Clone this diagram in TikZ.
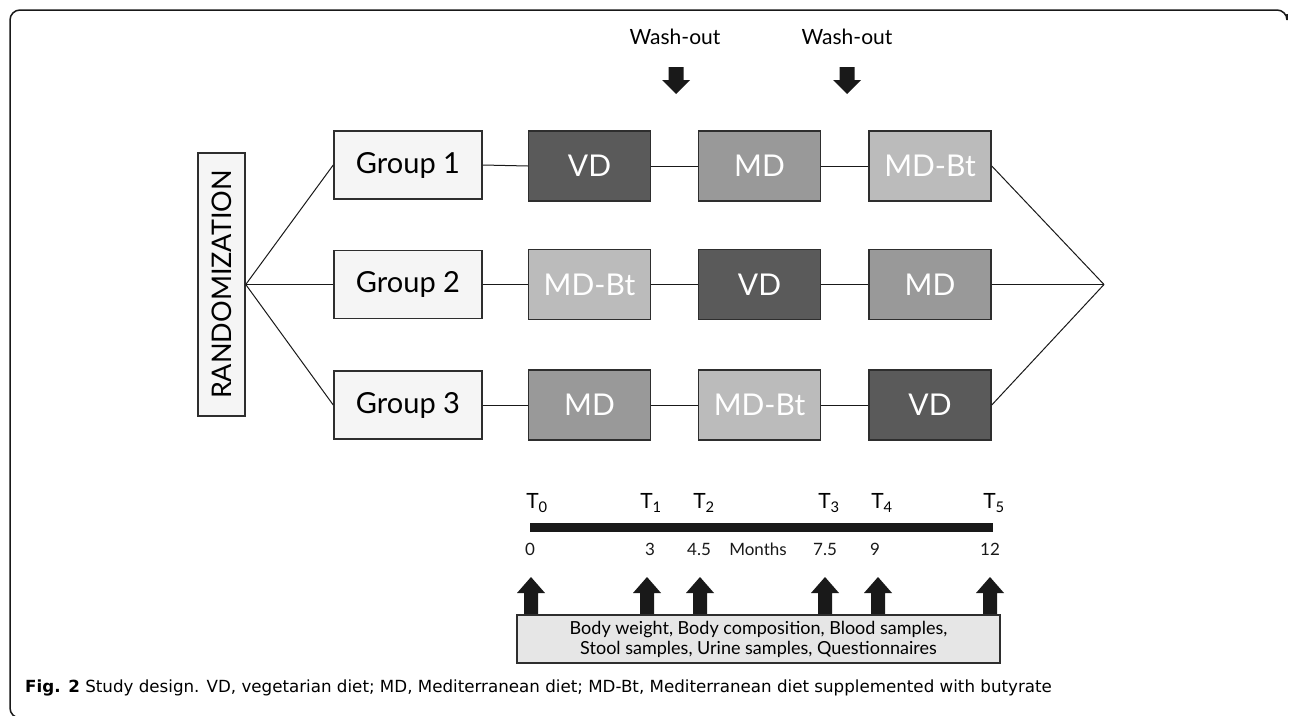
\documentclass[tikz,border=0pt]{standalone}
\usepackage{fontspec}
\setmainfont{Lato}
\newfontfamily\capfont{DejaVu Sans}
\usetikzlibrary{positioning}
\definecolor{mainBlack}{gray}{0.1}
\definecolor{boxLine}{gray}{0.18}
\definecolor{lightGray}{gray}{0.96}
\definecolor{vdGray}{HTML}{5A5A5A}
\definecolor{mdGray}{HTML}{999999}
\definecolor{btGray}{HTML}{BBBBBB}
\definecolor{noteGray}{HTML}{E6E6E6}

\begin{document}
\begin{tikzpicture}[x=1pt, y=-1pt,
    groupBox/.style={draw=boxLine, line width=1.5pt, fill=lightGray, minimum width=148pt, minimum height=68pt, inner sep=0pt, font=\fontsize{29}{34}\selectfont},
    dietBox/.style={draw=boxLine, line width=1.5pt, minimum width=122pt, minimum height=70pt, inner sep=0pt, text=white, font=\fontsize{30}{36}\selectfont},
    link/.style={mainBlack, line width=1pt}]
    \useasboundingbox (0,0) rectangle (1290,715);

    % Frame
    \draw[mainBlack, line width=1.5pt, rounded corners=10pt] (1287,14) -- (1287,10) -- (10,10) -- (10,718) -- (24,718);

    % Randomization and groups
    \node[draw=boxLine, line width=1.5pt, fill=lightGray, rotate=90, minimum width=263pt, minimum height=47pt, inner sep=0pt, font=\fontsize{27}{32}\selectfont] (rand) at (221.5,284.5) {RANDOMIZATION};
    \node[groupBox] (g1) at (408,165) {Group 1};
    \node[groupBox] (g2) at (408,284.5) {Group 2};
    \node[groupBox] (g3) at (408,405) {Group 3};

    % Diet periods
    \node[dietBox, fill=vdGray] (d11) at (589.5,166) {VD};
    \node[dietBox, fill=mdGray] (d12) at (759.5,166) {MD};
    \node[dietBox, fill=btGray] (d13) at (930,166) {MD-Bt};
    \node[dietBox, fill=btGray] (d21) at (589.5,284.5) {MD-Bt};
    \node[dietBox, fill=vdGray] (d22) at (759.5,284.5) {VD};
    \node[dietBox, fill=mdGray] (d23) at (930,284.5) {MD};
    \node[dietBox, fill=mdGray] (d31) at (589.5,405) {MD};
    \node[dietBox, fill=btGray] (d32) at (759.5,405) {MD-Bt};
    \node[dietBox, fill=vdGray] (d33) at (930,405) {VD};
    \coordinate (merge) at (1104,284.5);

    % Connectors
    \foreach \r in {1,2,3} {
        \draw[link] (rand.south) -- (g\r.west);
        \draw[link] (g\r.east) -- (d\r1.west);
        \draw[link] (d\r1.east) -- (d\r2.west);
        \draw[link] (d\r2.east) -- (d\r3.west);
        \draw[link] (d\r3.east) -- (merge);
    }

    % Wash-out
    \node[font=\fontsize{21}{25}\selectfont] (wash1) at (675,37) {Wash-out};
    \node[font=\fontsize{21}{25}\selectfont] (wash2) at (847,37) {Wash-out};
    \foreach \x in {676,847}
        \fill[mainBlack] (\x-7.5,67) -- (\x+7.5,67) -- (\x+7.5,80) -- (\x+14,80) -- (\x,94) -- (\x-14,80) -- (\x-7.5,80) -- cycle;

    % Timeline
    \coordinate (tStart) at (530,527.5);
    \coordinate (tEnd) at (993,527.5);
    \draw[mainBlack, line width=9pt] (tStart) -- (tEnd);
    \foreach \k/\x in {0/537,1/651,2/704,3/829,4/882,5/994}
        \node[font=\fontsize{21}{25}\selectfont] (t\k) at (\x,503) {T\textsubscript{\k}};
    \foreach \m/\x in {0/530,3/650,4.5/699,7.5/825,9/875,12/990}
        \node[font=\fontsize{17}{20}\selectfont, text=mainBlack] at (\x,549) {\m};
    \node[font=\fontsize{17}{20}\selectfont, text=mainBlack] (months) at (758,549) {Months};

    % Measurements
    \foreach \x in {531,647,700,825,878,990}
        \fill[mainBlack] (\x-7,616) -- (\x-7,593) -- (\x-14,593) -- (\x,577) -- (\x+14,593) -- (\x+7,593) -- (\x+7,616) -- cycle;
    \node[draw=boxLine, line width=1.5pt, fill=noteGray, minimum width=483pt, minimum height=48pt, inner sep=0pt, align=center, font=\fontsize{18}{20}\selectfont] (measures) at (758.5,639) {Body weight, Body composition, Blood samples,\\Stool samples, Urine samples, Questionnaires};

    % Caption
    \node[anchor=west, inner sep=0pt, font=\capfont\fontsize{16.7}{20}\selectfont] (caption) at (25,688) {\textbf{Fig. 2} Study design. VD, vegetarian diet; MD, Mediterranean diet; MD-Bt, Mediterranean diet supplemented with butyrate};
\end{tikzpicture}
\end{document}
